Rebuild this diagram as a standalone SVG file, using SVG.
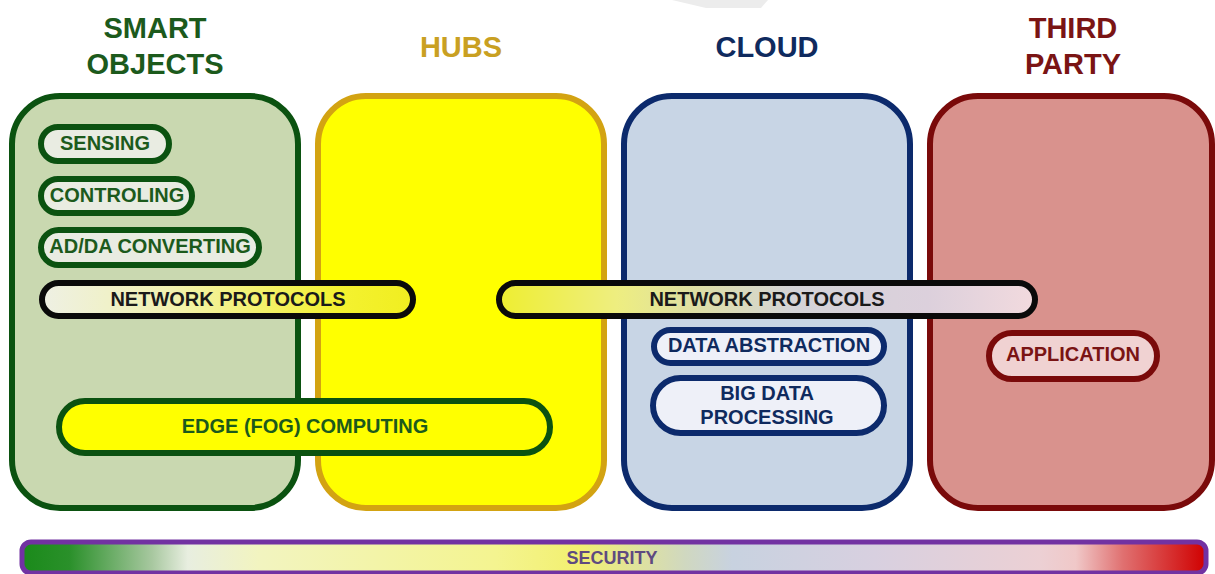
<svg xmlns="http://www.w3.org/2000/svg" width="1215" height="574" viewBox="0 0 1215 574">
<style>
text{font-family:"Liberation Sans",Arial,sans-serif;font-weight:bold;text-anchor:middle}
.title{font-size:29px}
.lbl{font-size:20px}
.big{stroke-width:6}
.pill{stroke-width:6}
</style>
<defs>
<linearGradient id="npL" x1="0" x2="1" y1="0" y2="0">
<stop offset="0" stop-color="#eef0e4"/>
<stop offset="0.35" stop-color="#f2f2b0"/>
<stop offset="0.8" stop-color="#f4f230"/>
<stop offset="1" stop-color="#f0ee20"/>
</linearGradient>
<linearGradient id="npR" x1="0" x2="1" y1="0" y2="0">
<stop offset="0" stop-color="#eeee30"/>
<stop offset="0.22" stop-color="#eeee80"/>
<stop offset="0.35" stop-color="#dfe0a0"/>
<stop offset="0.55" stop-color="#d4d4d8"/>
<stop offset="0.8" stop-color="#dcd0dc"/>
<stop offset="1" stop-color="#f2dade"/>
</linearGradient>
<linearGradient id="sec" x1="0" x2="1" y1="0" y2="0">
<stop offset="0" stop-color="#1a8a1a"/>
<stop offset="0.04" stop-color="#2a902a"/>
<stop offset="0.11" stop-color="#a8c8a0"/>
<stop offset="0.14" stop-color="#e8eee0"/>
<stop offset="0.2" stop-color="#f2f4c0"/>
<stop offset="0.4" stop-color="#f4f490"/>
<stop offset="0.47" stop-color="#f2f070"/>
<stop offset="0.56" stop-color="#d0d8c0"/>
<stop offset="0.6" stop-color="#c8d2e0"/>
<stop offset="0.72" stop-color="#d8d0e0"/>
<stop offset="0.86" stop-color="#ecd0d4"/>
<stop offset="0.89" stop-color="#f0c8c8"/>
<stop offset="0.93" stop-color="#e07070"/>
<stop offset="1" stop-color="#d00000"/>
</linearGradient>
</defs>
<rect width="1215" height="574" fill="#ffffff"/>
<path d="M672,0 L706,8 L761,8 L768,0 Z" fill="#ececec"/>

<g id="smart-objects">
<rect class="big" x="12" y="96" width="286" height="412" rx="48" fill="#c9d8b0" stroke="#0b5210"/>
<text class="title" x="155" y="38" fill="#1c5a1c">SMART</text>
<text class="title" x="155" y="74" fill="#1c5a1c">OBJECTS</text>
</g>
<g id="hubs">
<rect class="big" x="318" y="96" width="286" height="412" rx="48" fill="#ffff00" stroke="#d3a312"/>
<text class="title" x="461" y="57" fill="#c9a022">HUBS</text>
</g>
<g id="cloud">
<rect class="big" x="624" y="96" width="286" height="412" rx="48" fill="#c8d5e5" stroke="#0c2a6c"/>
<text class="title" x="767" y="57" fill="#0f2a5e">CLOUD</text>
</g>
<g id="third-party">
<rect class="big" x="930" y="96" width="282" height="412" rx="48" fill="#d9928d" stroke="#7a0a0a"/>
<text class="title" x="1073" y="38" fill="#7a1414">THIRD</text>
<text class="title" x="1073" y="74" fill="#7a1414">PARTY</text>
</g>

<g id="sensing">
<rect class="pill" x="41" y="127" width="128" height="34" rx="17" fill="#e9ece2" stroke="#0b5210"/>
<text class="lbl" x="105" y="150" fill="#1c5a1c">SENSING</text>
</g>
<g id="controling">
<rect class="pill" x="41" y="179" width="151" height="34" rx="17" fill="#e9ece2" stroke="#0b5210"/>
<text class="lbl" x="117" y="202" fill="#1c5a1c">CONTROLING</text>
</g>
<g id="adda">
<rect class="pill" x="41" y="230" width="218" height="35" rx="17.5" fill="#e9ece2" stroke="#0b5210"/>
<text class="lbl" x="150" y="253" fill="#1c5a1c">AD/DA CONVERTING</text>
</g>
<g id="network-protocols-left">
<rect class="pill" x="42" y="283" width="371" height="33" rx="16.5" fill="url(#npL)" stroke="#0a0a0a"/>
<text class="lbl" x="228" y="306" fill="#1a1a1a">NETWORK PROTOCOLS</text>
</g>
<g id="network-protocols-right">
<rect class="pill" x="499" y="283" width="536" height="33" rx="16.5" fill="url(#npR)" stroke="#0a0a0a"/>
<text class="lbl" x="767" y="306" fill="#1a1a1a">NETWORK PROTOCOLS</text>
</g>
<g id="data-abstraction">
<rect class="pill" x="654" y="330" width="230" height="33" rx="16.5" fill="#eef0f8" stroke="#0c2a6c"/>
<text class="lbl" x="769" y="352" fill="#0f2a5e">DATA ABSTRACTION</text>
</g>
<g id="big-data">
<rect class="pill" x="653" y="378" width="231" height="55" rx="27.5" fill="#eef0f8" stroke="#0c2a6c"/>
<text class="lbl" x="767" y="400" fill="#0f2a5e">BIG DATA</text>
<text class="lbl" x="767" y="424" fill="#0f2a5e">PROCESSING</text>
</g>
<g id="application">
<rect class="pill" x="989" y="333" width="168" height="46" rx="23" fill="#f0d2d2" stroke="#7a0a0a"/>
<text class="lbl" x="1073" y="361" fill="#7a1414">APPLICATION</text>
</g>
<g id="edge-computing">
<rect class="pill" x="59" y="401" width="491" height="52" rx="26" fill="#ffff00" stroke="#0b5210"/>
<text class="lbl" x="305" y="433" fill="#1c5a1c">EDGE (FOG) COMPUTING</text>
</g>
<g id="security">
<rect x="22" y="542" width="1184" height="31" rx="9" fill="url(#sec)" stroke="#7232a2" stroke-width="5"/>
<text class="lbl" x="612" y="564" fill="#5e4a80" style="font-size:18px">SECURITY</text>
</g>
<g id="connectors"/>
</svg>
